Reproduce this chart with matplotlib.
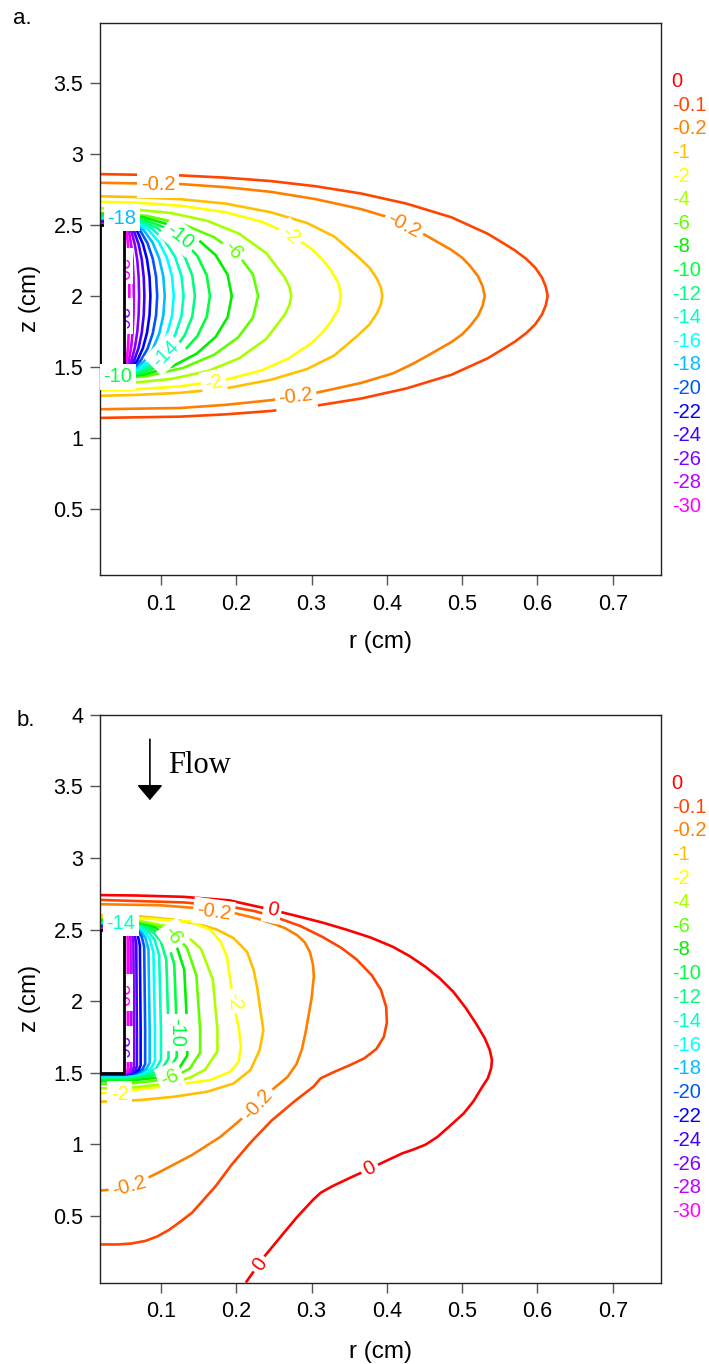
import matplotlib.pyplot as plt
import numpy as np
from matplotlib.patches import Rectangle

plt.rcParams['font.family'] = ['Liberation Sans', 'DejaVu Sans']

# contour levels and their colours (legend order)
levels = ['0', '-0.1', '-0.2', '-1', '-2', '-4', '-6', '-8', '-10', '-12', '-14',
          '-16', '-18', '-20', '-22', '-24', '-26', '-28', '-30']
level_colors = ['#FF0000', '#FF4500', '#FF8000', '#FFC000', '#FFFF00', '#AAFF00',
                '#60FF00', '#00F000', '#00FF40', '#00FF80', '#00FFC0', '#00FFFF',
                '#00BFFF', '#0055FF', '#0000FF', '#4000FF', '#8000FF', '#BF00FF', '#FF00FF']

# electrode (r0, z0, width, height) in cm
electrode = (0.019, 1.5, 0.0325, 1.0)

# ---------------- panel a: contour lines (r, z) ----------------
a_m0p1 = [(0.019, 2.860), (0.126, 2.851), (0.186, 2.835), (0.246, 2.811), (0.306, 2.774),
          (0.366, 2.723), (0.426, 2.652), (0.486, 2.555), (0.534, 2.439), (0.553, 2.378),
          (0.570, 2.322), (0.585, 2.262), (0.597, 2.200), (0.606, 2.130), (0.611, 2.065),
          (0.6135, 2.0), (0.611, 1.935), (0.606, 1.870), (0.597, 1.800), (0.585, 1.738),
          (0.570, 1.678), (0.553, 1.622), (0.534, 1.561), (0.486, 1.445), (0.426, 1.348),
          (0.366, 1.277), (0.306, 1.226), (0.246, 1.189), (0.186, 1.165), (0.126, 1.149),
          (0.019, 1.140)]
a_m0p2 = [(0.019, 2.799), (0.126, 2.790), (0.186, 2.768), (0.246, 2.735), (0.306, 2.683),
          (0.366, 2.613), (0.408, 2.546), (0.434, 2.480), (0.456, 2.415), (0.486, 2.324),
          (0.500, 2.270), (0.510, 2.215), (0.521, 2.140), (0.527, 2.070), (0.530, 2.0),
          (0.527, 1.930), (0.521, 1.860), (0.510, 1.785), (0.500, 1.730), (0.486, 1.676),
          (0.456, 1.585), (0.434, 1.520), (0.408, 1.454), (0.366, 1.387), (0.306, 1.317),
          (0.246, 1.265), (0.186, 1.232), (0.126, 1.210), (0.019, 1.201)]
a_m1 = [(0.019, 2.704), (0.066, 2.698), (0.126, 2.683), (0.186, 2.652), (0.246, 2.591),
        (0.294, 2.515), (0.330, 2.420), (0.360, 2.285), (0.377, 2.200), (0.387, 2.120),
        (0.392, 2.060), (0.394, 2.0), (0.392, 1.940), (0.387, 1.880), (0.377, 1.800),
        (0.360, 1.715), (0.330, 1.580), (0.294, 1.485), (0.246, 1.409), (0.186, 1.348),
        (0.126, 1.317), (0.066, 1.302), (0.019, 1.296)]
a_m2 = [(0.019, 2.665), (0.066, 2.659), (0.126, 2.637), (0.186, 2.591), (0.234, 2.524),
        (0.270, 2.439), (0.300, 2.332), (0.313, 2.265), (0.324, 2.195), (0.336, 2.088),
        (0.339, 2.0), (0.336, 1.912), (0.324, 1.805), (0.313, 1.735), (0.300, 1.668),
        (0.270, 1.561), (0.234, 1.476), (0.186, 1.409), (0.126, 1.363), (0.066, 1.341),
        (0.019, 1.335)]
a_m4 = [(0.019, 2.619), (0.066, 2.610), (0.114, 2.585), (0.162, 2.530), (0.204, 2.439),
        (0.240, 2.302), (0.264, 2.134), (0.2705, 2.065), (0.273, 2.0), (0.2705, 1.935),
        (0.264, 1.866), (0.240, 1.698), (0.204, 1.561), (0.162, 1.470), (0.114, 1.415),
        (0.066, 1.390), (0.019, 1.381)]
a_m6 = [(0.019, 2.586), (0.030, 2.585), (0.0815, 2.565), (0.1295, 2.507), (0.1707, 2.414),
        (0.2023, 2.293), (0.2222, 2.152), (0.229, 2.0), (0.2222, 1.848), (0.2023, 1.707),
        (0.1707, 1.586), (0.1295, 1.493), (0.0815, 1.435), (0.030, 1.415), (0.019, 1.414)]
a_m8 = [(0.019, 2.576), (0.035, 2.575), (0.0762, 2.556), (0.1145, 2.498), (0.1474, 2.407),
        (0.1727, 2.288), (0.1886, 2.149), (0.194, 2.0), (0.1886, 1.851), (0.1727, 1.712),
        (0.1474, 1.593), (0.1145, 1.502), (0.0762, 1.444), (0.035, 1.425), (0.019, 1.424)]
a_m10 = [(0.019, 2.566), (0.040, 2.565), (0.0724, 2.546), (0.1025, 2.489), (0.1284, 2.400),
         (0.1483, 2.283), (0.1608, 2.146), (0.165, 2.0), (0.1608, 1.854), (0.1483, 1.717),
         (0.1284, 1.600), (0.1025, 1.511), (0.0724, 1.454), (0.040, 1.435), (0.019, 1.434)]
a_m12 = [(0.019, 2.556), (0.044, 2.555), (0.0702, 2.536), (0.0945, 2.481), (0.1154, 2.392),
         (0.1315, 2.278), (0.1416, 2.144), (0.145, 2.0), (0.1416, 1.856), (0.1315, 1.722),
         (0.1154, 1.608), (0.0945, 1.519), (0.0702, 1.464), (0.044, 1.445), (0.019, 1.444)]
a_m14 = [(0.019, 2.548), (0.047, 2.547), (0.0685, 2.528), (0.0885, 2.474), (0.1057, 2.387),
         (0.1189, 2.274), (0.1272, 2.142), (0.130, 2.0), (0.1272, 1.858), (0.1189, 1.726),
         (0.1057, 1.613), (0.0885, 1.526), (0.0685, 1.472), (0.047, 1.453), (0.019, 1.452)]
a_m16 = [(0.019, 2.541), (0.049, 2.540), (0.0666, 2.522), (0.083, 2.468), (0.0971, 2.382),
         (0.1079, 2.270), (0.1147, 2.140), (0.117, 2.0), (0.1147, 1.860), (0.1079, 1.730),
         (0.0971, 1.618), (0.083, 1.532), (0.0666, 1.478), (0.049, 1.460), (0.019, 1.459)]
a_m18 = [(0.019, 2.534), (0.050, 2.533), (0.0642, 2.515), (0.0775, 2.462), (0.0889, 2.377),
         (0.0976, 2.267), (0.1031, 2.138), (0.105, 2.0), (0.1031, 1.862), (0.0976, 1.733),
         (0.0889, 1.623), (0.0775, 1.538), (0.0642, 1.485), (0.050, 1.467), (0.019, 1.466)]
a_m20 = [(0.019, 2.528), (0.051, 2.527), (0.0624, 2.509), (0.073, 2.456), (0.0821, 2.373),
         (0.0891, 2.264), (0.0935, 2.137), (0.095, 2.0), (0.0935, 1.863), (0.0891, 1.736),
         (0.0821, 1.627), (0.073, 1.544), (0.0624, 1.491), (0.051, 1.473), (0.019, 1.472)]
a_m22 = [(0.019, 2.522), (0.052, 2.521), (0.0608, 2.503), (0.069, 2.451), (0.076, 2.368),
         (0.0814, 2.261), (0.0848, 2.135), (0.086, 2.0), (0.0848, 1.865), (0.0814, 1.739),
         (0.076, 1.632), (0.069, 1.549), (0.0608, 1.497), (0.052, 1.479), (0.019, 1.478)]
a_m24 = [(0.019, 2.516), (0.052, 2.515), (0.0587, 2.498), (0.065, 2.446), (0.0704, 2.364),
         (0.0745, 2.258), (0.0771, 2.133), (0.078, 2.0), (0.0771, 1.867), (0.0745, 1.742),
         (0.0704, 1.636), (0.065, 1.554), (0.0587, 1.502), (0.052, 1.485), (0.019, 1.484)]
a_m26 = [(0.019, 2.511), (0.052, 2.510), (0.0569, 2.493), (0.0615, 2.442), (0.0654, 2.361),
         (0.0685, 2.255), (0.0704, 2.132), (0.071, 2.0), (0.0704, 1.868), (0.0685, 1.745),
         (0.0654, 1.639), (0.0615, 1.558), (0.0569, 1.507), (0.052, 1.490), (0.019, 1.489)]
a_m28 = [(0.019, 2.507), (0.052, 2.506), (0.0551, 2.489), (0.058, 2.438), (0.0605, 2.358),
         (0.0624, 2.253), (0.0636, 2.131), (0.064, 2.0), (0.0636, 1.869), (0.0624, 1.747),
         (0.0605, 1.642), (0.058, 1.562), (0.0551, 1.511), (0.052, 1.494), (0.019, 1.493)]
a_m30 = [(0.019, 2.504), (0.052, 2.503), (0.0536, 2.486), (0.055, 2.436), (0.0562, 2.356),
         (0.0572, 2.252), (0.0578, 2.130), (0.058, 2.0), (0.0578, 1.870), (0.0572, 1.748),
         (0.0562, 1.644), (0.055, 1.564), (0.0536, 1.514), (0.052, 1.497), (0.019, 1.496)]

a_label_text = ['-0.2', '-0.2', '-0.2', '-2', '-2', '-6', '-10', '-14', '-18', '-10']
a_label_r = [0.096, 0.423, 0.279, 0.272, 0.170, 0.196, 0.125, 0.106, 0.048, 0.043]
a_label_z = [2.785, 2.50, 1.29, 2.43, 1.385, 2.32, 2.42, 1.59, 2.55, 1.43]
a_label_rot = [0, -28, 7, -40, 12, -50, -38, 45, 0, 0]
a_hidden_text = ['-30', '-26']
a_hidden_r = [0.045, 0.045]
a_hidden_z = [2.21, 1.86]

# ---------------- panel b: contour lines (r, z) ----------------
b_0 = [(0.0183, 2.741), (0.0672, 2.738), (0.1291, 2.729), (0.1910, 2.704), (0.2480, 2.637),
       (0.2839, 2.590), (0.315, 2.548), (0.3458, 2.500), (0.378, 2.445), (0.4077, 2.380),
       (0.430, 2.315), (0.4511, 2.240), (0.470, 2.160), (0.4882, 2.065), (0.505, 1.950),
       (0.5192, 1.836), (0.530, 1.740), (0.5365, 1.660), (0.5395, 1.590), (0.5385, 1.530),
       (0.534, 1.460), (0.5254, 1.390), (0.515, 1.300), (0.502, 1.215), (0.4821, 1.120),
       (0.4670, 1.050), (0.4511, 0.996), (0.4350, 0.962), (0.4201, 0.935), (0.3954, 0.874),
       (0.3720, 0.815), (0.3520, 0.767), (0.3272, 0.705), (0.3120, 0.660), (0.3025, 0.614),
       (0.2808, 0.491), (0.2591, 0.354), (0.2375, 0.216), (0.2127, 0.033)]
b_m0p1 = [(0.0183, 2.707), (0.129, 2.690), (0.191, 2.661), (0.225, 2.628), (0.253, 2.585),
          (0.285, 2.525), (0.315, 2.447), (0.340, 2.370), (0.360, 2.290), (0.380, 2.180),
          (0.392, 2.080), (0.399, 1.960), (0.400, 1.850), (0.396, 1.750), (0.386, 1.665),
          (0.370, 1.600), (0.350, 1.550), (0.330, 1.505), (0.312, 1.460), (0.3025, 1.402),
          (0.2777, 1.301), (0.2467, 1.164), (0.2189, 1.011), (0.1941, 0.858), (0.1724, 0.705),
          (0.1415, 0.522), (0.125, 0.455), (0.1105, 0.400), (0.095, 0.355), (0.0796, 0.324),
          (0.060, 0.305), (0.0424, 0.299), (0.0183, 0.299)]
b_m0p2 = [(0.0183, 2.677), (0.098, 2.670), (0.160, 2.645), (0.200, 2.612), (0.228, 2.576),
          (0.250, 2.540), (0.265, 2.509), (0.281, 2.460), (0.291, 2.410), (0.298, 2.340),
          (0.302, 2.250), (0.303, 2.172), (0.300, 2.020), (0.296, 1.900), (0.292, 1.780),
          (0.287, 1.660), (0.280, 1.560), (0.268, 1.470), (0.250, 1.390), (0.228, 1.280),
          (0.2034, 1.160), (0.1786, 1.050), (0.1415, 0.925), (0.0981, 0.805), (0.0672, 0.725),
          (0.040, 0.685), (0.0183, 0.675)]
b_m1 = [(0.0187, 2.601), (0.072, 2.592), (0.1164, 2.570), (0.152, 2.535), (0.1742, 2.500),
        (0.1964, 2.440), (0.2143, 2.345), (0.2231, 2.217), (0.2276, 2.100), (0.232, 1.937),
        (0.236, 1.797), (0.231, 1.657), (0.2187, 1.517), (0.1964, 1.424), (0.1609, 1.366),
        (0.1164, 1.331), (0.072, 1.308), (0.0187, 1.297)]
b_m2 = [(0.0187, 2.590), (0.072, 2.580), (0.1387, 2.555), (0.1653, 2.500), (0.1787, 2.420),
        (0.1876, 2.310), (0.192, 2.147), (0.1964, 1.984), (0.203, 1.820), (0.2063, 1.680),
        (0.203, 1.575), (0.192, 1.506), (0.1653, 1.448), (0.1164, 1.413), (0.0631, 1.378),
        (0.0187, 1.355)]
b_m4 = [(0.0187, 2.580), (0.052, 2.580), (0.1104, 2.522), (0.1346, 2.454), (0.1532, 2.365),
        (0.1689, 2.150), (0.175, 1.800), (0.175, 1.650), (0.1585, 1.520), (0.139, 1.466),
        (0.1135, 1.425), (0.052, 1.390), (0.0187, 1.390)]
b_m6 = [(0.0187, 2.570), (0.052, 2.570), (0.0995, 2.518), (0.1192, 2.456), (0.1343, 2.375),
        (0.147, 2.180), (0.152, 1.800), (0.152, 1.640), (0.1386, 1.530), (0.1227, 1.4845),
        (0.102, 1.4495), (0.052, 1.420), (0.0187, 1.420)]
b_m8 = [(0.0187, 2.562), (0.052, 2.562), (0.0914, 2.516), (0.1078, 2.462), (0.1203, 2.391),
        (0.1309, 2.220), (0.135, 1.800), (0.135, 1.620), (0.1239, 1.530), (0.1107, 1.4927),
        (0.0935, 1.4641), (0.052, 1.440), (0.0187, 1.440)]
b_m10 = [(0.0187, 2.555), (0.052, 2.555), (0.0848, 2.5155), (0.0984, 2.4686), (0.1088, 2.4075),
         (0.1176, 2.260), (0.121, 1.800), (0.121, 1.610), (0.1118, 1.5325), (0.1008, 1.5004),
         (0.0865, 1.4758), (0.052, 1.455), (0.0187, 1.455)]
b_m12 = [(0.0187, 2.548), (0.052, 2.548), (0.0796, 2.5134), (0.091, 2.4724), (0.0997, 2.419),
         (0.1071, 2.290), (0.110, 1.800), (0.110, 1.600), (0.1022, 1.5325), (0.093, 1.5046),
         (0.081, 1.4831), (0.052, 1.465), (0.0187, 1.465)]
b_m14 = [(0.0187, 2.542), (0.052, 2.542), (0.0748, 2.5123), (0.0842, 2.477), (0.0915, 2.431),
         (0.0976, 2.320), (0.100, 1.800), (0.100, 1.590), (0.0936, 1.531), (0.0859, 1.5066),
         (0.076, 1.4878), (0.052, 1.472), (0.0187, 1.472)]
b_m16 = [(0.0187, 2.536), (0.052, 2.536), (0.071, 2.5097), (0.0789, 2.4786), (0.0849, 2.438),
         (0.090, 2.340), (0.092, 1.800), (0.092, 1.580), (0.0866, 1.529), (0.0803, 1.5079),
         (0.072, 1.4917), (0.052, 1.478), (0.0187, 1.478)]
b_m18 = [(0.0187, 2.530), (0.052, 2.530), (0.0677, 2.5072), (0.0742, 2.4802), (0.0792, 2.445),
         (0.0834, 2.360), (0.085, 1.800), (0.085, 1.570), (0.0806, 1.526), (0.0753, 1.5078),
         (0.0685, 1.4938), (0.052, 1.482), (0.0187, 1.482)]
b_m20 = [(0.0187, 2.525), (0.052, 2.525), (0.0648, 2.5056), (0.0702, 2.4825), (0.0743, 2.4525),
         (0.0777, 2.380), (0.079, 1.800), (0.079, 1.560), (0.0754, 1.523), (0.0711, 1.5077),
         (0.0655, 1.4959), (0.052, 1.486), (0.0187, 1.486)]
b_m22 = [(0.0187, 2.520), (0.052, 2.520), (0.062, 2.5026), (0.0661, 2.4819), (0.0693, 2.455),
         (0.072, 2.390), (0.073, 1.800), (0.073, 1.550), (0.0702, 1.5195), (0.0668, 1.5069),
         (0.0625, 1.4972), (0.052, 1.489), (0.0187, 1.489)]
b_m24 = [(0.0187, 2.515), (0.052, 2.515), (0.0596, 2.4996), (0.0627, 2.4813), (0.0652, 2.4575),
         (0.0672, 2.400), (0.068, 1.800), (0.068, 1.545), (0.0659, 1.5185), (0.0633, 1.5075),
         (0.060, 1.4991), (0.052, 1.492), (0.0187, 1.492)]
b_m26 = [(0.0187, 2.510), (0.052, 2.510), (0.0577, 2.4966), (0.0601, 2.4807), (0.0619, 2.460),
         (0.0634, 2.410), (0.064, 1.800), (0.064, 1.540), (0.0624, 1.517), (0.0605, 1.5075),
         (0.058, 1.5002), (0.052, 1.494), (0.0187, 1.494)]
b_m28 = [(0.0187, 2.506), (0.052, 2.506), (0.0558, 2.4945), (0.0574, 2.4808), (0.0586, 2.463),
         (0.0596, 2.420), (0.060, 1.800), (0.060, 1.535), (0.0589, 1.5155), (0.0577, 1.5074),
         (0.056, 1.5012), (0.052, 1.496), (0.0187, 1.496)]
b_m30 = [(0.0187, 2.503), (0.052, 2.503), (0.0539, 2.4932), (0.0547, 2.4816), (0.0553, 2.4665),
         (0.0558, 2.430), (0.056, 1.800), (0.056, 1.530), (0.0555, 1.514), (0.0548, 1.5074),
         (0.054, 1.5023), (0.052, 1.498), (0.0187, 1.498)]

b_label_text = ['0', '-0.2', '-0.2', '-0.2', '0', '0', '-2', '-2', '-6', '-6', '-10', '-14']
b_label_r = [0.248, 0.170, 0.228, 0.058, 0.377, 0.231, 0.197, 0.045, 0.116, 0.112, 0.121, 0.047]
b_label_z = [2.637, 2.62, 1.28, 0.705, 0.83, 0.16, 2.0, 1.35, 2.46, 1.465, 1.78, 2.545]
b_label_rot = [-12, -8, 48, 15, 28, 55, -85, 0, -55, 20, -90, 0]
b_hidden_text = ['-30', '-26']
b_hidden_r = [0.045, 0.045]
b_hidden_z = [2.06, 1.70]

# flow arrow in panel b (r, z)
flow_start = (0.0853, 3.85)
flow_end = (0.0853, 3.385)
flow_text_pos = (0.1093, 3.594)

a_lines = [('-0.1', a_m0p1), ('-0.2', a_m0p2), ('-1', a_m1), ('-2', a_m2), ('-4', a_m4),
           ('-6', a_m6), ('-8', a_m8), ('-10', a_m10), ('-12', a_m12), ('-14', a_m14),
           ('-16', a_m16), ('-18', a_m18), ('-20', a_m20), ('-22', a_m22), ('-24', a_m24),
           ('-26', a_m26), ('-28', a_m28), ('-30', a_m30)]
b_lines = [('0', b_0), ('-0.1', b_m0p1), ('-0.2', b_m0p2), ('-1', b_m1), ('-2', b_m2),
           ('-4', b_m4), ('-6', b_m6), ('-8', b_m8), ('-10', b_m10), ('-12', b_m12),
           ('-14', b_m14), ('-16', b_m16), ('-18', b_m18), ('-20', b_m20), ('-22', b_m22),
           ('-24', b_m24), ('-26', b_m26), ('-28', b_m28), ('-30', b_m30)]

color_of = dict(zip(levels, level_colors))
box = dict(boxstyle='square,pad=0.18', fc='white', ec='none')


def draw_panel(ax, lines, lab_t, lab_r, lab_z, lab_rot, hid_t, hid_r, hid_z,
               ylim, yticks, leg_y0, leg_step):
    for lev, pts in lines:
        arr = np.array(pts)
        ax.plot(arr[:, 0], arr[:, 1], color=color_of[lev], lw=1.9, zorder=2,
                solid_joinstyle='round', solid_capstyle='butt')
    for t, r, z, rot in zip(lab_t, lab_r, lab_z, lab_rot):
        ax.text(r, z, t, color=color_of[t], fontsize=14.5, rotation=rot,
                ha='center', va='center', rotation_mode='anchor', bbox=box, zorder=6)
    for t, r, z in zip(hid_t, hid_r, hid_z):
        ax.text(r, z, t, color=color_of[t], fontsize=14.5, rotation=-90,
                ha='center', va='center', bbox=box, zorder=3)
    ax.add_patch(Rectangle(electrode[:2], electrode[2], electrode[3], fc='white',
                           ec='black', lw=2.0, zorder=5))
    ax.set_xlim(0.019, 0.764)
    ax.set_ylim(*ylim)
    ax.set_xticks([0.1, 0.2, 0.3, 0.4, 0.5, 0.6, 0.7])
    ax.set_xticklabels(['0.1', '0.2', '0.3', '0.4', '0.5', '0.6', '0.7'])
    ax.set_yticks(yticks)
    ax.set_yticklabels(['%g' % v for v in yticks])
    ax.tick_params(direction='out', length=7, width=1, color='#555555',
                   labelsize=15.5, labelcolor='black')
    ax.tick_params(axis='x', pad=6.5)
    ax.tick_params(axis='y', pad=5)
    for sp in ax.spines.values():
        sp.set_linewidth(1.0)
        sp.set_color('#222222')
    ax.set_xlabel('r (cm)', fontsize=17.5)
    ax.set_ylabel('z (cm)', fontsize=17.5)
    ax.xaxis.set_label_coords(0.5, -0.122)
    ax.xaxis.label.set_va('center')
    ax.yaxis.set_label_coords(-0.125, 0.5)
    ax.yaxis.label.set_va('center')
    for i, (lev, col) in enumerate(zip(levels, level_colors)):
        ax.text(1.019, leg_y0 - i * leg_step, lev, color=col, fontsize=14.5,
                transform=ax.transAxes, ha='left', va='center', clip_on=False)


fig = plt.figure(figsize=(7.09, 13.64), dpi=100)
ax_a = fig.add_axes([0.1410, 0.5784, 0.7913, 0.4049])
ax_b = fig.add_axes([0.1410, 0.05975, 0.7913, 0.4161])

draw_panel(ax_a, a_lines, a_label_text, a_label_r, a_label_z, a_label_rot,
           a_hidden_text, a_hidden_r, a_hidden_z, (0.031, 3.928),
           [0.5, 1, 1.5, 2, 2.5, 3, 3.5], 0.8932, 0.04273)
draw_panel(ax_b, b_lines, b_label_text, b_label_r, b_label_z, b_label_rot,
           b_hidden_text, b_hidden_r, b_hidden_z, (0.033, 4.0),
           [0.5, 1, 1.5, 2, 2.5, 3, 3.5, 4], 0.8797, 0.04194)

ax_b.annotate('', xy=flow_end, xytext=flow_start,
              arrowprops=dict(arrowstyle='-|>,head_length=0.47,head_width=0.4',
                              mutation_scale=20, color='black', lw=1.2))
ax_b.text(flow_text_pos[0], flow_text_pos[1], 'Flow', fontsize=22,
          family=['Liberation Serif', 'DejaVu Serif'], ha='left', va='baseline')

fig.text(0.0183, 0.9866, 'a.', fontsize=16, ha='left', va='center')
fig.text(0.024, 0.4721, 'b.', fontsize=16, ha='left', va='center')

fig.savefig('out.png', dpi=100)
